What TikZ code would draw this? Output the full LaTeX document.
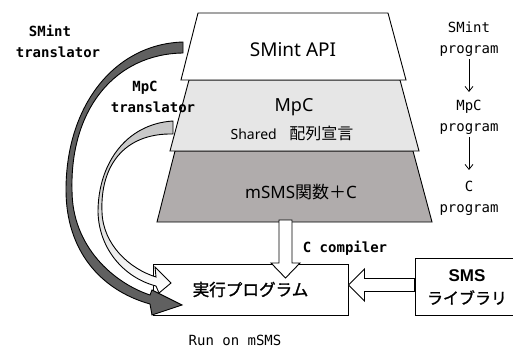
\documentclass[tikz,border=0pt]{standalone}
\usepackage{fontspec}
\setmainfont{Noto Sans}
\newfontfamily\jp{Noto Sans CJK JP}
\newfontfamily\jpheavy[FakeBold=1.3]{Noto Sans CJK JP}
\newfontfamily\arialish{Liberation Sans}
\newfontfamily\mono{DejaVu Sans Mono}
\usetikzlibrary{arrows.meta,calc}

\definecolor{layerlight}{RGB}{230,230,230}
\definecolor{layerdark}{RGB}{176,172,172}
\definecolor{bandgray}{RGB}{96,96,96}
\definecolor{bandlight}{RGB}{198,198,198}

\begin{document}
\begin{tikzpicture}[x=1pt,y=-1pt,
  edge/.style={line width=0.9pt, line join=miter},
  monolbl/.style={font=\mono\fontsize{14}{21}\selectfont, align=center, inner sep=0pt},
  monobold/.style={font=\mono\bfseries\fontsize{14}{19}\selectfont, inner sep=0pt},
  flowarrow/.style={-{Straight Barb[length=5pt,width=8pt]}, line width=0.8pt},
  boxnode/.style={draw, line width=0.9pt, fill=white, inner sep=0pt}
]
\useasboundingbox (0,0) rectangle (513,347);

% executable and library boxes
\node[boxnode, minimum width=195pt, minimum height=51pt,
      font=\jpheavy\fontsize{16.6}{20}\selectfont] (exec) at (250.5,289.5) {実行プログラム};
\node[boxnode, minimum width=101pt, minimum height=57pt] (lib) at (465.5,286.5) {};
\node[inner sep=0pt, font=\arialish\bfseries\fontsize{17}{20}\selectfont] (libT1) at (467,276) {SMS};
\node[inner sep=0pt, font=\jpheavy\fontsize{16}{18}\selectfont] (libT2) at (467,297.5) {ライブラリ};

% SMint translator: tapered dark band
\draw[edge, fill=bandgray]
  (183,42) .. controls (115,44) and (66,105) .. (66,190)
  .. controls (66,250) and (100,290) .. (150,304)
  -- (152,315) -- (182,305) -- (152,290) -- (150,295)
  .. controls (114,283) and (72,247) .. (72,190)
  .. controls (70,108) and (116,54) .. (183,53) -- cycle;

% MpC translator: tapered light band fading to white
\draw[edge, top color=bandlight, bottom color=white, middle color=bandlight!70]
  (173,121) .. controls (125,124) and (98,165) .. (98,212)
  .. controls (99,250) and (125,278) .. (156,286)
  -- (159,293) -- (171,283) -- (155,267) -- (156,277)
  .. controls (130,269) and (103,245) .. (102,212)
  .. controls (100,166) and (124,133) .. (173,134) -- cycle;

% layer stack
\draw[edge, fill=layerdark] (175,151) -- (413,151) -- (432,222) -- (157,222) -- cycle;
\draw[edge, fill=layerlight] (189,80) -- (400,80) -- (419,151) -- (170,151) -- cycle;
\draw[edge, fill=white] (198,13) -- (388,13) -- (406,80) -- (181,80) -- cycle;

\node[font=\fontsize{19}{22}\selectfont, inner sep=0pt] (api) at (293,50) {SMint API};
\node[font=\fontsize{18}{21}\selectfont, inner sep=0pt] (mpc) at (294,107) {MpC};
\node[inner sep=0pt] (shared) at (292,133)
  {\fontsize{14}{17}\selectfont Shared\hspace{0.9em}{\jp\fontsize{16}{17}\selectfont 配列宣言}};
\node[inner sep=0pt] (msms) at (301,192)
  {\fontsize{17}{20}\selectfont mSMS{\jp 関数＋}C};

% compiler step: hollow block arrow into the executable
\coordinate (cc) at (285.5,220);
\draw[edge, fill=white] ($(cc)+(-6.5,0)$) -- ($(cc)+(6.5,0)$) -- ($(cc)+(6.5,43)$)
  -- ($(cc)+(14.5,43)$) -- ($(cc)+(0,58)$) -- ($(cc)+(-14.5,43)$)
  -- ($(cc)+(-6.5,43)$) -- cycle;

% library linked into the executable
\coordinate (lt) at (exec.east |- 0,285);
\draw[edge, fill=white] (lib.west |- 0,278.5) -- ($(lt)+(16,-6.5)$) -- ($(lt)+(16,-16)$)
  -- (lt) -- ($(lt)+(16,16)$) -- ($(lt)+(16,6.5)$) -- (lib.west |- 0,291.5) -- cycle;

% labels
\node[monobold] (smintT1) at (50,31) {SMint};
\node[monobold] (smintT2) at (58,52) {translator};
\node[monobold] (mpcT1) at (145,88) {MpC};
\node[monobold] (mpcT2) at (153,107) {translator};
\node[monobold] (ccomp) at (345,248) {C compiler};
\node[monolbl] (run) at (235,340) {Run on mSMS};

% program chain on the right
\node[monolbl] (p1) at (469,39.5) {SMint\\program};
\node[monolbl] (p2) at (469,117.5) {MpC\\program};
\node[monolbl] (p3) at (469,198) {C\\program};
\draw[flowarrow] (p1.south) ++(0,2) coordinate (a1) -- (a1 |- 0,92);
\draw[flowarrow] (p2.south) ++(0,2) coordinate (a2) -- (a2 |- 0,170);
\end{tikzpicture}
\end{document}
